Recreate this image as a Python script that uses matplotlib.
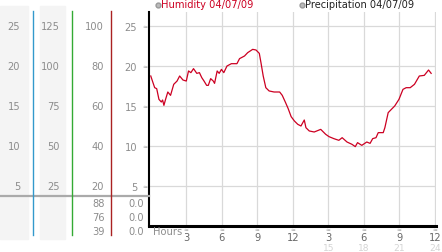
import matplotlib
matplotlib.use("Agg")
import matplotlib.pyplot as plt
from matplotlib.transforms import blended_transform_factory

# humidity trace
hours = [0.0, 0.14, 0.33, 0.5, 0.69, 0.89, 1.0, 1.11, 1.25, 1.44, 1.67, 1.94, 2.22, 2.44, 2.72,
         3.0, 3.19, 3.39, 3.61, 3.89, 4.11, 4.31, 4.5, 4.72, 4.86, 5.06, 5.28, 5.39, 5.61, 5.78,
         5.97, 6.17, 6.44, 6.81, 7.28, 7.5, 7.92, 8.19, 8.61, 8.89, 9.17, 9.31, 9.5, 9.72, 10.0,
         10.42, 10.89, 11.11, 11.39, 11.61, 11.86, 12.14, 12.42, 12.69, 12.97, 13.11, 13.39,
         13.81, 14.36, 14.78, 15.06, 15.47, 15.89, 16.17, 16.58, 17.0, 17.28, 17.47, 17.83,
         18.25, 18.53, 18.75, 19.03, 19.22, 19.64, 19.78, 20.06, 20.33, 20.61, 20.97, 21.31,
         21.58, 21.92, 22.28, 22.69, 23.11, 23.47, 23.69]
humidity = [18.75, 18.12, 17.29, 17.17, 15.83, 15.5, 15.75, 15.08, 15.83, 16.75, 16.33, 17.71,
            18.12, 18.75, 18.25, 18.12, 19.38, 19.17, 19.67, 19.08, 19.17, 18.54, 18.12, 17.58,
            17.58, 18.42, 18.12, 17.83, 19.38, 19.08, 19.58, 19.17, 20.0, 20.29, 20.29, 20.92,
            21.25, 21.67, 22.08, 22.0, 21.58, 20.42, 18.75, 17.29, 16.88, 16.75, 16.75, 16.33,
            15.42, 14.67, 13.67, 13.12, 12.71, 12.5, 13.25, 12.29, 11.88, 11.75, 12.08, 11.46,
            11.17, 10.92, 10.71, 11.04, 10.5, 10.21, 9.92, 10.42, 10.08, 10.5, 10.33, 10.92,
            11.04, 11.67, 11.67, 12.29, 14.17, 14.58, 15.0, 15.83, 17.08, 17.29, 17.29, 17.71,
            18.75, 18.83, 19.5, 19.08]

yticks = [5, 10, 15, 20, 25]
col1_labels = ['5', '10', '15', '20', '25']
col2_labels = ['25', '50', '75', '100', '125']
col3_labels = ['20', '40', '60', '80', '100']
xticks = [3, 6, 9, 12, 15, 18, 21, 24]
xtick_labels = ['3', '6', '9', '12', '3', '6', '9', '12']
second_row = [15, 18, 21, 24]
bottom_col3 = ['88', '76', '39']
bottom_col4 = ['0.0', '0.0', '0.0']

W, H = 442, 253
GRAY = '#8c8c8c'
FS = 7.1
fig = plt.figure(figsize=(W / 100, H / 100), dpi=100)

def fx(p):
    return p / W

def fy(p):
    return 1 - p / H

# left scale panel backgrounds (behind everything)
for x0, x1 in [(0, 28), (40, 65)]:
    fig.patches.append(plt.Rectangle((fx(x0), fy(240)), fx(x1) - fx(x0), fy(7) - fy(240),
                                     transform=fig.transFigure, color='#f4f4f4', zorder=-5))

# main chart area
ax = fig.add_axes([fx(149), fy(227), fx(436) - fx(149), fy(13) - fy(227)])
ax.patch.set_alpha(0)
ax.set_xlim(-0.15, 24.1)
ax.set_ylim(0, 26.75)
ax.plot(hours, humidity, color='#cc0022', linewidth=0.9)
for s in ['top', 'right']:
    ax.spines[s].set_visible(False)
ax.spines['left'].set_linewidth(1.5)
ax.spines['bottom'].set_linewidth(2.2)
ax.set_yticks(yticks)
ax.set_yticklabels([str(v) for v in yticks], fontsize=FS, color=GRAY)
ax.tick_params(axis='y', length=0, pad=8.5)
ax.set_xticks(xticks)
ax.set_xticklabels(xtick_labels, fontsize=FS, color='#666666')
ax.tick_params(axis='x', length=0, pad=4.2)
ax.grid(True, color='#d9d9d9', linewidth=0.9)
ax.set_axisbelow(True)

# small marks beside the ticks
ymark = blended_transform_factory(fig.transFigure, ax.transData)
for v in yticks:
    ax.text(fx(145), v, '≈', transform=ymark, fontsize=4.5, color='#999999',
            ha='center', va='center')
xmark = blended_transform_factory(ax.transData, fig.transFigure)
for v in xticks:
    ax.text(v, fy(230), '≈', transform=xmark, fontsize=4.2, color='#999999',
            ha='center', va='center')
for v in second_row:
    ax.text(v, fy(248.5), str(v), transform=xmark, fontsize=6.6, color='#d4d4d4',
            ha='center', va='center')
fig.text(fx(153), fy(232), 'Hours', fontsize=FS, color=GRAY, ha='left', va='center')

# left scale panel lines and labels
fig.add_artist(plt.Line2D([0, fx(149)], [fy(197), fy(197)], color='#aaaaaa', linewidth=1.6))
for xp, c in [(33, '#3399cc'), (72, '#33aa33'), (111, '#aa2222')]:
    fig.add_artist(plt.Line2D([fx(xp), fx(xp)], [fy(236), fy(12)], color=c, linewidth=1.0))
for xr, labels in [(20, col1_labels), (60, col2_labels), (104, col3_labels)]:
    for v, lab in zip(yticks, labels):
        ax.text(fx(xr), v, lab, transform=ymark, fontsize=FS, color=GRAY,
                ha='right', va='center')
for i, yp in enumerate([204, 218, 232]):
    fig.text(fx(105), fy(yp), bottom_col3[i], fontsize=FS, color=GRAY, ha='right', va='center')
    fig.text(fx(144), fy(yp), bottom_col4[i], fontsize=FS, color=GRAY, ha='right', va='center')

# legend row
fig.add_artist(plt.Line2D([fx(158)], [fy(5.5)], marker='o', markersize=3.5,
                          markerfacecolor='#bbbbbb', markeredgecolor='#999999', linestyle=''))
fig.text(fx(161), fy(5.5), 'Humidity 04/07/09', fontsize=FS, color='#cc0022', va='center')
fig.add_artist(plt.Line2D([fx(302)], [fy(5.5)], marker='o', markersize=3.5,
                          markerfacecolor='#bbbbbb', markeredgecolor='#999999', linestyle=''))
fig.text(fx(305), fy(5.5), 'Precipitation 04/07/09', fontsize=FS, color='#222222', va='center')

fig.savefig('out.png', dpi=100)
